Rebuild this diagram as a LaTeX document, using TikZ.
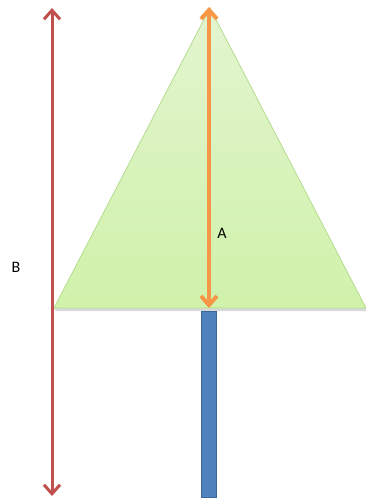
\documentclass[tikz,border=0pt]{standalone}
\usepackage{fontspec}
\setmainfont{Carlito}
\usetikzlibrary{arrows.meta}
\definecolor{redA}{HTML}{C0504D}
\definecolor{orangeA}{HTML}{F79646}
\definecolor{blueA}{HTML}{4F81BD}
\definecolor{blueB}{HTML}{3A6797}
\definecolor{greenTop}{HTML}{E3F4D0}
\definecolor{greenBot}{HTML}{D0F2AA}
\definecolor{greenEdge}{HTML}{B5DC8E}
\tikzset{
  dimarrow/.style={line width=#1, {Straight Barb[length=9pt,width=16pt,line width=#1]}-{Straight Barb[length=9pt,width=16pt,line width=#1]}},
  lbl/.style={font=\fontsize{16}{18}\selectfont, inner sep=0pt}
}
\begin{document}
\begin{tikzpicture}[x=1pt,y=-1pt]
\useasboundingbox (0,0) rectangle (366,499);
\fill[white] (0,0) rectangle (366,499);
% key points
\coordinate (apex) at (210,8);
\coordinate (bl) at (54,308);
\coordinate (br) at (366,308);
\coordinate (atop) at (209,7);
\coordinate (abot) at (209,308);
\coordinate (btop) at (52,8);
\coordinate (bbot) at (52,496);
% shadow
\fill[black!15] (54,308) -- (366,308) -- (366,311) -- (56,311) -- cycle;
% crown
\shade[top color=greenTop, bottom color=greenBot, draw=greenEdge, line width=0.8pt] (apex) -- (br) -- (bl) -- cycle;
% trunk
\node[draw=blueB, fill=blueA, line width=1pt, minimum width=15pt, minimum height=186pt, inner sep=0pt, anchor=north] (trunk) at (209,310.5) {};
% dimension arrows
\draw[dimarrow=4pt, orangeA] (abot) -- (atop);
\draw[dimarrow=3pt, redA] (bbot) -- (btop);
% labels
\node[lbl] (A) at (222,233) {A};
\node[lbl] (B) at (16,267) {B};
\end{tikzpicture}
\end{document}
